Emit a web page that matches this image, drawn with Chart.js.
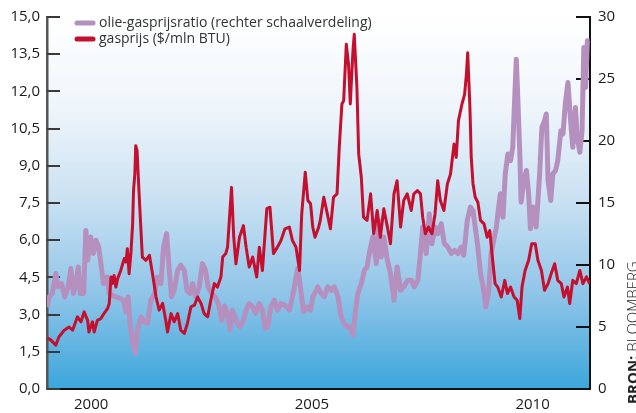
<!DOCTYPE html>
<html>
<head>
<meta charset="utf-8">
<title>Olie-gasprijsratio</title>
<script src="https://cdn.jsdelivr.net/npm/chart.js@4.4.0/dist/chart.umd.min.js"></script>
<style>
    html, body { margin: 0; padding: 0; background: #fff; }
    #wrap { position: relative; width: 636px; height: 413px; }
</style>
</head>
<body>
<div id="wrap"><canvas id="chart" width="636" height="413"></canvas></div>
<script>
// Gasprijs ($/mln BTU), linker as
const gasDates = [
    1999.01, 1999.09, 1999.20, 1999.27, 1999.39, 1999.50, 1999.58, 1999.69, 1999.77, 1999.84, 1999.92, 1999.95,
    2000.03, 2000.07, 2000.14, 2000.22, 2000.29, 2000.37, 2000.41, 2000.45, 2000.48, 2000.52, 2000.56, 2000.60,
    2000.67, 2000.75, 2000.79, 2000.82, 2000.86, 2000.90, 2000.94, 2000.96, 2000.99, 2001.01, 2001.04,
    2001.09, 2001.16, 2001.24, 2001.32, 2001.39, 2001.47, 2001.54, 2001.62, 2001.69, 2001.73, 2001.81, 2001.88, 2001.96,
    2002.03, 2002.11, 2002.18, 2002.26, 2002.34, 2002.41, 2002.49, 2002.56, 2002.64, 2002.71, 2002.79, 2002.86, 2002.94, 2002.98,
    2003.05, 2003.09, 2003.13, 2003.18, 2003.23, 2003.28, 2003.36, 2003.45, 2003.51, 2003.58, 2003.66, 2003.75, 2003.81, 2003.88, 2003.98,
    2004.05, 2004.13, 2004.22, 2004.30, 2004.39, 2004.49, 2004.56, 2004.64, 2004.72, 2004.77, 2004.85, 2004.91, 2004.97,
    2005.02, 2005.07, 2005.15, 2005.19, 2005.27, 2005.35, 2005.42, 2005.49, 2005.57, 2005.62, 2005.68, 2005.72, 2005.78, 2005.83, 2005.87, 2005.93, 2005.96,
    2006.02, 2006.06, 2006.12, 2006.17, 2006.25, 2006.33, 2006.40, 2006.48, 2006.55, 2006.63, 2006.71, 2006.78, 2006.86, 2006.93,
    2007.01, 2007.08, 2007.16, 2007.25, 2007.31, 2007.39, 2007.46, 2007.51, 2007.57, 2007.64, 2007.72, 2007.79, 2007.85, 2007.91, 2007.99,
    2008.07, 2008.14, 2008.22, 2008.27, 2008.32, 2008.40, 2008.46, 2008.50, 2008.53, 2008.58, 2008.61, 2008.65, 2008.70, 2008.76, 2008.82, 2008.90, 2008.97,
    2009.03, 2009.08, 2009.15, 2009.21, 2009.29, 2009.37, 2009.43, 2009.50, 2009.58, 2009.65, 2009.71, 2009.76, 2009.83, 2009.91, 2009.98,
    2010.06, 2010.12, 2010.20, 2010.27, 2010.35, 2010.42, 2010.50, 2010.57, 2010.65, 2010.71, 2010.79, 2010.84, 2010.91, 2010.99,
    2011.07, 2011.14, 2011.22, 2011.29
];
const gasPrice = [
    2.05, 1.97, 1.77, 2.10, 2.37, 2.50, 2.37, 2.91, 2.71, 3.11, 2.77, 2.30,
    2.71, 2.30, 2.77, 2.84, 3.04, 3.24, 3.45, 4.52, 4.25, 4.58, 4.11, 4.45,
    4.78, 5.26, 5.12, 5.66, 4.65, 5.46, 6.66, 8.00, 8.67, 9.81, 9.61,
    7.73, 5.32, 5.19, 5.39, 4.65, 3.71, 3.18, 3.45, 2.77, 2.30, 3.04, 2.71, 3.04,
    2.37, 2.24, 2.64, 3.31, 3.38, 3.71, 3.45, 3.04, 2.91, 3.58, 4.25, 4.11, 4.52, 5.32,
    5.46, 5.72, 6.80, 8.13, 6.12, 5.05, 6.12, 6.59, 5.72, 4.92, 5.32, 4.52, 5.72, 4.78, 7.27,
    7.33, 5.46, 5.72, 5.99, 6.46, 6.53, 5.99, 5.72, 4.78, 7.06, 8.74, 7.60, 7.47,
    6.53, 6.12, 6.50, 6.80, 7.73, 7.06, 6.46, 7.73, 7.87, 9.74, 11.49, 11.62, 13.90, 13.10, 11.49, 13.63, 14.30,
    12.16, 9.48, 8.54, 6.93, 6.80, 7.87, 6.26, 7.20, 6.12, 7.27, 6.53, 5.86, 7.87, 8.40,
    6.53, 7.60, 7.87, 7.20, 7.87, 8.00, 7.87, 6.93, 6.26, 6.53, 6.26, 7.06, 8.40, 7.60, 7.20,
    8.27, 8.67, 9.88, 9.34, 10.82, 11.49, 11.89, 12.69, 13.56, 11.35, 9.34, 8.27, 7.73, 7.53, 6.80, 6.66, 6.12,
    6.39, 5.46, 4.25, 4.11, 3.71, 4.38, 3.85, 4.11, 3.71, 3.58, 2.84, 4.11, 4.78, 5.19, 5.86,
    5.86, 5.19, 4.78, 3.98, 4.25, 4.65, 5.05, 4.38, 4.25, 3.71, 4.11, 3.45, 4.38, 4.25,
    4.78, 4.25, 4.52, 4.25
];

// Olie-gasprijsratio, rechter as
const ratioDates = [
    1999.00, 1999.05, 1999.12, 1999.20, 1999.25, 1999.33, 1999.40, 1999.48, 1999.54, 1999.60, 1999.65, 1999.71, 1999.75, 1999.83, 1999.88, 1999.92, 1999.99,
    2000.05, 2000.11, 2000.17, 2000.22, 2000.28, 2000.36, 2000.41, 2000.48, 2000.56, 2000.66, 2000.73, 2000.79, 2000.84, 2000.88, 2000.94, 2001.00,
    2001.05, 2001.13, 2001.20, 2001.28, 2001.35, 2001.44, 2001.50, 2001.58, 2001.64, 2001.71, 2001.77, 2001.82, 2001.88, 2001.96,
    2002.03, 2002.11, 2002.17, 2002.24, 2002.30, 2002.37, 2002.45, 2002.52, 2002.59, 2002.65, 2002.73, 2002.81, 2002.88, 2002.96,
    2003.02, 2003.08, 2003.15, 2003.20, 2003.28, 2003.36, 2003.43, 2003.51, 2003.58, 2003.66, 2003.73, 2003.81, 2003.88, 2003.94, 2004.00,
    2004.07, 2004.15, 2004.22, 2004.30, 2004.39, 2004.49, 2004.56, 2004.63, 2004.68, 2004.74, 2004.81, 2004.89, 2004.97,
    2005.02, 2005.10, 2005.13, 2005.21, 2005.28, 2005.36, 2005.44, 2005.51, 2005.59, 2005.65, 2005.72, 2005.80, 2005.87, 2005.93, 2005.98,
    2006.04, 2006.12, 2006.19, 2006.25, 2006.30, 2006.38, 2006.46, 2006.51, 2006.57, 2006.63, 2006.71, 2006.78, 2006.86, 2006.93,
    2007.01, 2007.08, 2007.17, 2007.25, 2007.32, 2007.40, 2007.46, 2007.51, 2007.59, 2007.66, 2007.72, 2007.79, 2007.85, 2007.93,
    2008.00, 2008.08, 2008.16, 2008.23, 2008.31, 2008.38, 2008.44, 2008.52, 2008.59, 2008.65, 2008.70, 2008.76, 2008.82, 2008.88, 2008.94,
    2009.00, 2009.06, 2009.12, 2009.18, 2009.23, 2009.27, 2009.33, 2009.38, 2009.44, 2009.50, 2009.55, 2009.63, 2009.67, 2009.71, 2009.74, 2009.80, 2009.86, 2009.91, 2009.95,
    2010.01, 2010.08, 2010.16, 2010.21, 2010.27, 2010.31, 2010.35, 2010.41, 2010.46, 2010.52, 2010.57, 2010.64, 2010.69, 2010.74, 2010.80, 2010.86, 2010.91, 2010.97,
    2011.01, 2011.07, 2011.12, 2011.16, 2011.20, 2011.24, 2011.29
];
const ratioValues = [
    6.60, 7.43, 7.70, 9.31, 8.23, 8.50, 7.43, 8.23, 9.71, 7.70, 8.50, 9.84, 7.70, 7.70, 12.79, 10.38, 12.25,
    10.92, 11.99, 11.45, 10.11, 8.50, 9.03, 7.70, 7.56, 7.43, 7.30, 7.16, 6.22, 7.43, 5.29, 3.68, 2.90,
    4.75, 5.82, 5.41, 5.29, 7.16, 7.70, 9.03, 8.50, 11.45, 12.53, 9.57, 7.43, 7.96, 9.57,
    9.98, 9.57, 7.96, 7.70, 8.50, 7.43, 8.23, 10.11, 9.57, 8.23, 7.70, 7.43, 6.89, 5.55,
    6.70, 6.09, 4.75, 6.36, 5.55, 5.01, 5.29, 6.36, 6.89, 6.62, 6.09, 6.89, 6.36, 4.88, 5.01,
    6.62, 7.16, 6.36, 6.89, 6.76, 6.36, 7.43, 8.77, 9.71, 8.23, 6.22, 6.62, 6.36,
    7.43, 7.96, 8.23, 7.70, 7.43, 8.23, 7.96, 8.23, 7.43, 6.09, 5.29, 5.01, 5.01, 4.34, 6.09,
    7.70, 8.50, 9.57, 9.84, 10.92, 12.25, 10.11, 13.60, 10.64, 12.25, 10.38, 9.31, 7.16, 9.84,
    7.96, 8.23, 8.77, 8.77, 8.23, 8.77, 10.92, 13.06, 10.92, 14.13, 11.72, 13.06, 12.53, 13.33,
    11.72, 11.45, 10.92, 11.18, 10.92, 11.45, 10.78, 13.60, 14.67, 14.40, 13.06, 11.45, 9.31, 8.23, 6.62,
    7.70, 10.92, 12.00, 13.06, 14.67, 15.74, 13.86, 17.35, 18.96, 18.42, 19.49, 26.60, 22.98, 18.96, 15.07, 16.81, 17.62, 15.74, 12.93,
    14.67, 13.06, 17.35, 21.10, 21.64, 22.18, 16.81, 15.20, 17.35, 17.62, 18.42, 20.83, 20.57, 22.98, 24.72, 21.64, 19.49, 22.71,
    20.30, 19.09, 20.83, 27.54, 24.32, 28.08, 28.08
];

// Assen
const xTicks = [2000, 2005, 2010];
const leftTicks = [0, 1.5, 3, 4.5, 6, 7.5, 9, 10.5, 12, 13.5, 15];
const rightTicks = [0, 5, 10, 15, 20, 25, 30];

// Teksten
const ratioLabel = 'olie-gasprijsratio (rechter schaalverdeling)';
const gasLabel = 'gasprijs ($/mln BTU)';
const sourceBold = 'BRON:';
const sourceText = ' BLOOMBERG';

const FONT = "'Open Sans', 'Noto Sans', sans-serif";
const RED = '#c50f2e';
const PURPLE = '#b590bf';

function toPoints(dates, values) {
    return dates.map((d, i) => ({ x: d, y: values[i] }));
}

// Achtergrond met kleurverloop in het plotgebied
const gradientBackground = {
    id: 'gradientBackground',
    beforeDraw(chart) {
        const { ctx, chartArea: a } = chart;
        const g = ctx.createLinearGradient(0, a.top, 0, a.bottom);
        g.addColorStop(0, '#ffffff');
        g.addColorStop(0.25, '#eef5fb');
        g.addColorStop(0.5, '#c8e0f2');
        g.addColorStop(0.75, '#8ec4e8');
        g.addColorStop(1, '#3ba6dc');
        ctx.save();
        ctx.fillStyle = g;
        ctx.fillRect(a.left, a.top, a.right - a.left, a.bottom - a.top);
        ctx.restore();
    }
};

// Streepjes aan de binnenkant van de y-assen
const innerTicks = {
    id: 'innerTicks',
    beforeDatasetsDraw(chart) {
        const { ctx, chartArea: a } = chart;
        ctx.save();
        ctx.lineWidth = 2;
        ctx.strokeStyle = '#3a3a3a';
        chart.scales.y.ticks.forEach(t => {
            const y = Math.round(chart.scales.y.getPixelForValue(t.value));
            ctx.beginPath();
            ctx.moveTo(a.left, y);
            ctx.lineTo(a.left + 13, y);
            ctx.stroke();
        });
        ctx.strokeStyle = '#111';
        chart.scales.y1.ticks.forEach(t => {
            const y = Math.round(chart.scales.y1.getPixelForValue(t.value));
            ctx.beginPath();
            ctx.moveTo(a.right - 14, y);
            ctx.lineTo(a.right, y);
            ctx.stroke();
        });
        ctx.restore();
    }
};

// Legenda linksboven en bronvermelding rechts
const annotations = {
    id: 'annotations',
    afterDraw(chart) {
        const { ctx } = chart;
        ctx.save();
        ctx.lineCap = 'round';
        ctx.lineWidth = 5;
        [[PURPLE, ratioLabel, 23], [RED, gasLabel, 39]].forEach(([color, text, y]) => {
            ctx.strokeStyle = color;
            ctx.beginPath();
            ctx.moveTo(77, y);
            ctx.lineTo(93, y);
            ctx.stroke();
            ctx.fillStyle = '#333';
            ctx.font = '14px ' + FONT;
            ctx.textBaseline = 'middle';
            ctx.fillText(text, 99, y);
        });

        ctx.translate(638, 404);
        ctx.rotate(-Math.PI / 2);
        ctx.textBaseline = 'alphabetic';
        ctx.fillStyle = '#222';
        ctx.font = 'bold 15px ' + FONT;
        ctx.fillText(sourceBold, 0, 0);
        const w = ctx.measureText(sourceBold).width;
        ctx.font = '300 15px ' + FONT;
        ctx.fillText(sourceText, w, 0);
        ctx.restore();
    }
};

const ctx = document.getElementById('chart').getContext('2d');
new Chart(ctx, {
    type: 'line',
    data: {
        datasets: [
            {
                label: gasLabel,
                data: toPoints(gasDates, gasPrice),
                yAxisID: 'y',
                borderColor: RED,
                borderWidth: 3,
                pointRadius: 0,
                tension: 0,
                borderJoinStyle: 'round',
                order: 0
            },
            {
                label: ratioLabel,
                data: toPoints(ratioDates, ratioValues),
                yAxisID: 'y1',
                borderColor: PURPLE,
                borderWidth: 5,
                pointRadius: 0,
                tension: 0,
                borderJoinStyle: 'round',
                order: 1
            }
        ]
    },
    options: {
        responsive: false,
        animation: false,
        devicePixelRatio: 1,
        layout: { padding: { top: 16, left: 0, right: 0, bottom: 0 } },
        plugins: {
            legend: { display: false },
            tooltip: { enabled: false }
        },
        scales: {
            x: {
                type: 'linear',
                min: 1999,
                max: 2011.3,
                afterBuildTicks: s => { s.ticks = xTicks.map(v => ({ value: v })); },
                afterFit: s => { s.height = 24; },
                grid: { display: false, drawTicks: false },
                border: { display: true, color: '#111', width: 2 },
                ticks: {
                    padding: 7,
                    maxRotation: 0,
                    color: '#1a1a1a',
                    font: { family: FONT, size: 15 },
                    callback: v => String(v)
                }
            },
            y: {
                position: 'left',
                min: 0,
                max: 15,
                afterBuildTicks: s => { s.ticks = leftTicks.map(v => ({ value: v })); },
                afterFit: s => { s.width = 47; },
                grid: { display: false, drawTicks: false },
                border: { display: true, color: '#555', width: 2.5 },
                ticks: {
                    padding: 7,
                    color: '#1a1a1a',
                    font: { family: FONT, size: 15 },
                    callback: v => v.toFixed(1).replace('.', ',')
                }
            },
            y1: {
                position: 'right',
                min: 0,
                max: 30,
                afterBuildTicks: s => { s.ticks = rightTicks.map(v => ({ value: v })); },
                afterFit: s => { s.width = 46; },
                grid: { display: false, drawTicks: false },
                border: { display: true, color: '#111', width: 2 },
                ticks: {
                    padding: 8,
                    color: '#1a1a1a',
                    font: { family: FONT, size: 15 },
                    callback: v => String(v)
                }
            }
        }
    },
    plugins: [gradientBackground, innerTicks, annotations]
});
</script>
</body>
</html>
